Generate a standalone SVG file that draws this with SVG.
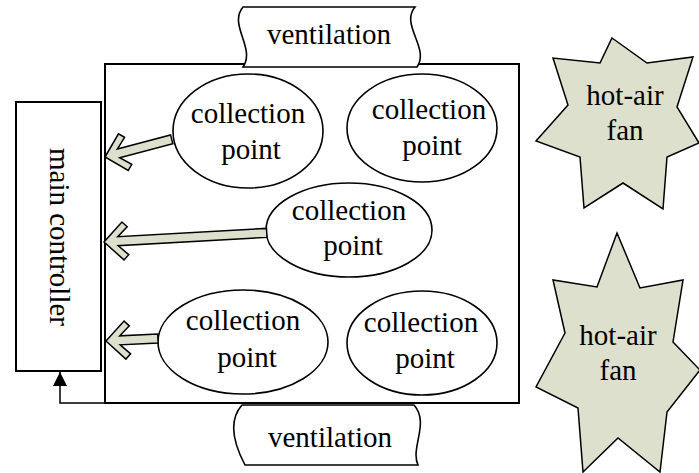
<svg xmlns="http://www.w3.org/2000/svg" width="699" height="473" viewBox="0 0 699 473">
<defs>
<style>
.t{font-family:"Liberation Serif","Times New Roman",serif;font-size:29px;fill:#000;text-anchor:middle}
.sh{fill:#fff;stroke:#000;stroke-width:1.6}
.box{fill:#fff;stroke:#000;stroke-width:2}
.star{fill:#dde0cc;stroke:#000;stroke-width:1.5;stroke-linejoin:miter}
.blk{fill:#dde0cc;stroke:#000;stroke-width:1.5;stroke-linejoin:miter}
.line{fill:none;stroke:#000;stroke-width:1.5}
</style>
<marker id="ah" markerWidth="14" markerHeight="14" viewBox="0 0 14 14" refX="14" refY="7" orient="auto" markerUnits="userSpaceOnUse">
<path d="M0,0 L14,7 L0,14 Z" fill="#000"/>
</marker>
</defs>
<rect width="699" height="473" fill="#fff"/>

<g id="area">
<rect class="box" x="105" y="64" width="414" height="339"/>
</g>

<g id="main-controller">
<rect class="box" x="16" y="102" width="85" height="269"/>
<text class="t" transform="translate(50,237) rotate(90)">main controller</text>
</g>

<g id="ventilation-top">
<path class="sh" d="M243,7 L415,7 C400,25 430,48 417,67 L243,67 C256,48 228,25 243,7 Z"/>
<text class="t" x="329" y="44">ventilation</text>
</g>

<g id="ventilation-bottom">
<path class="sh" d="M242,405 L414,405 C430,423 410,448 418,465 L245,465 C236,448 226,423 242,405 Z"/>
<text class="t" x="330" y="447">ventilation</text>
</g>

<g id="cp1">
<ellipse class="sh" cx="248" cy="131" rx="75" ry="57"/>
<text class="t" x="248" y="123">collection</text>
<text class="t" x="251" y="159">point</text>
</g>
<g id="cp2">
<ellipse class="sh" cx="422" cy="128" rx="75" ry="54"/>
<text class="t" x="429" y="119">collection</text>
<text class="t" x="432" y="155">point</text>
</g>
<g id="cp3">
<ellipse class="sh" cx="349" cy="230" rx="83" ry="47"/>
<text class="t" x="349" y="220">collection</text>
<text class="t" x="353" y="255">point</text>
</g>
<g id="cp4">
<ellipse class="sh" cx="243" cy="342" rx="85" ry="52"/>
<text class="t" x="243" y="330">collection</text>
<text class="t" x="247" y="367">point</text>
</g>
<g id="cp5">
<ellipse class="sh" cx="422" cy="343" rx="75" ry="52"/>
<text class="t" x="421" y="332">collection</text>
<text class="t" x="425" y="368">point</text>
</g>

<g id="fan1">
<polygon class="star" points="612,38 647,63 693,57 677,107 699,143 667,157 663,209 623,183 584,208 580,157 536,141 568,105 553,58 600,63"/>
<text class="t" x="625" y="105">hot-air</text>
<text class="t" x="625" y="140">fan</text>
</g>
<g id="fan2">
<polygon class="star" points="617,233 640,288 683,280 673,342 700,370 667,412 660,472 618,438 583,472 578,408 536,387 565,333 553,280 597,287"/>
<text class="t" x="618" y="345">hot-air</text>
<text class="t" x="618" y="380">fan</text>
</g>

<g id="connectors">
<path class="blk" transform="translate(105,157) rotate(-14.9)" d="M0,0 L19,-19 L24,-14 L14,-4.5 L69,-4.5 L69,4.5 L14,4.5 L24,14 L19,19 Z"/>
<path class="blk" transform="translate(104,242) rotate(-3.2)" d="M0,0 L19,-19 L24,-14 L14,-4.5 L163,-4.5 L163,4.5 L14,4.5 L24,14 L19,19 Z"/>
<path class="blk" transform="translate(106,341) rotate(-2.75)" d="M0,0 L19,-19 L24,-14 L14,-4.5 L52,-4.5 L52,4.5 L14,4.5 L24,14 L19,19 Z"/>
<path class="line" d="M105,403 L60,403 L60,372" marker-end="url(#ah)"/>
</g>
</svg>
